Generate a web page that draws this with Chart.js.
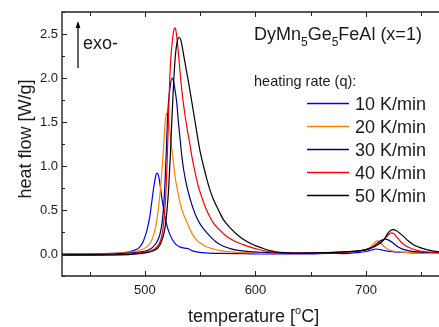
<!DOCTYPE html>
<html>
<head>
<meta charset="utf-8">
<script src="https://cdn.jsdelivr.net/npm/chart.js@4.4.0/dist/chart.umd.min.js"></script>
<style>
  html, body { margin: 0; padding: 0; background: #fff; overflow: hidden; }
  #chart { display: block; }
</style>
</head>
<body>
<canvas id="chart" width="439" height="327"></canvas>
<script>
// heating rates, legend order
const rates = ['10 K/min', '20 K/min', '30 K/min', '40 K/min', '50 K/min'];
const colors = ['#0000ff', '#ff8000', '#000080', '#ff0000', '#000000'];

// DSC traces, [temperature °C, heat flow W/g]
const q10 = [[425,0.0],[445,0.0],[465,0.005],[478,0.012],[486,0.025],[492,0.05],[496,0.09],[499,0.16],[502,0.28],[504.5,0.43],[506.5,0.62],[508.5,0.8],[510,0.9],[511.2,0.92],[512.5,0.88],[514,0.76],[516,0.58],[518,0.43],[520,0.32],[522,0.24],[524.5,0.17],[528,0.11],[532,0.078],[536,0.066],[539,0.062],[543,0.035],[548,0.022],[555,0.012],[570,0.006],[590,0.004],[610,0.0],[630,0.002],[650,0.0],[665,0.008],[680,0.005],[692,0.015],[700,0.028],[705,0.045],[709,0.057],[713,0.05],[718,0.035],[725,0.025],[735,0.018],[748,0.012],[758,0.015],[770,0.01]];
const q20 = [[425,-0.005],[450,-0.003],[470,0.005],[482,0.015],[490,0.028],[496,0.045],[501,0.075],[505,0.13],[508,0.22],[510.5,0.36],[512.5,0.55],[514.3,0.77],[515.7,1.0],[516.8,1.2],[518,1.45],[519,1.57],[519.8,1.6],[520.6,1.57],[522,1.46],[523.5,1.28],[525.7,1.05],[527.5,0.86],[529.5,0.72],[531.8,0.58],[534,0.48],[536.3,0.41],[539,0.33],[542.3,0.24],[546,0.17],[550,0.125],[556,0.08],[562,0.057],[570,0.036],[580,0.022],[595,0.014],[610,0.01],[630,0.008],[650,0.012],[670,0.02],[685,0.025],[695,0.035],[701,0.055],[705,0.09],[708.5,0.14],[710.5,0.15],[713,0.125],[716,0.088],[720,0.055],[725,0.032],[732,0.022],[745,0.018],[770,0.014]];
const q30 = [[425,-0.005],[450,-0.005],[470,0.0],[485,0.01],[495,0.022],[502,0.04],[507,0.075],[510.5,0.13],[513.5,0.22],[515.5,0.35],[517,0.55],[518.3,0.85],[519.3,1.15],[520.3,1.5],[521.3,1.72],[522.8,1.9],[524.5,2.0],[525.6,1.98],[527,1.88],[528.8,1.72],[530.2,1.51],[531.8,1.31],[533.3,1.12],[535,0.96],[537.9,0.77],[540.8,0.63],[543.8,0.51],[547,0.41],[550,0.34],[554,0.27],[559,0.2],[565,0.13],[571,0.088],[578,0.058],[586,0.038],[595,0.026],[605,0.02],[620,0.012],[640,0.01],[660,0.015],[680,0.022],[692,0.032],[700,0.05],[705,0.075],[709,0.11],[713,0.15],[717.3,0.17],[721,0.155],[724.5,0.125],[728,0.088],[733,0.055],[740,0.032],[750,0.02],[770,0.015]];
const q40 = [[425,-0.015],[450,-0.015],[470,-0.01],[485,0.0],[495,0.012],[503,0.03],[509,0.06],[513,0.12],[515.5,0.22],[517.3,0.39],[518.8,0.65],[520,1.0],[521.2,1.5],[522.2,1.9],[523.3,2.2],[524.8,2.42],[526.3,2.55],[527.3,2.57],[528.3,2.52],[529.8,2.35],[531.3,2.14],[532.8,1.93],[534.5,1.74],[536.5,1.56],[538.5,1.4],[540.5,1.26],[542.3,1.12],[545,0.95],[548.3,0.77],[551.3,0.65],[554.4,0.54],[558,0.44],[562,0.35],[567,0.28],[574,0.2],[581,0.148],[589,0.106],[596,0.075],[604,0.048],[613,0.025],[625,0.012],[645,0.01],[665,0.015],[685,0.025],[697,0.04],[704,0.065],[709,0.1],[713,0.13],[716,0.16],[719.5,0.21],[722.7,0.24],[725,0.232],[728,0.19],[731,0.145],[735,0.1],[740,0.068],[746,0.042],[752,0.026],[760,0.02],[770,0.016]];
const q50 = [[425,-0.01],[450,-0.01],[470,-0.01],[485,-0.006],[495,0.004],[503,0.018],[509,0.045],[513,0.09],[516,0.18],[518.2,0.3],[520,0.5],[521.5,0.75],[523,1.12],[524.3,1.5],[525.7,1.88],[527.5,2.25],[529.3,2.42],[530.9,2.46],[532.5,2.43],[534.5,2.3],[537,2.12],[539.5,1.95],[542,1.76],[545.4,1.5],[548,1.3],[550,1.16],[553,1.0],[556,0.85],[559,0.72],[562,0.62],[566.5,0.5],[571,0.39],[577,0.3],[583,0.225],[590,0.16],[598,0.106],[605,0.072],[613,0.038],[622,0.018],[640,0.01],[660,0.015],[680,0.025],[695,0.038],[702,0.055],[708,0.085],[712,0.115],[716,0.16],[720.3,0.245],[724.2,0.276],[727.5,0.265],[730.5,0.235],[733.9,0.2],[738,0.15],[743,0.106],[749,0.072],[755,0.05],[761,0.032],[770,0.022]];
const traces = [q10, q20, q30, q40, q50];

const xTicks = [500, 600, 700];
const yTicks = [0, 0.5, 1, 1.5, 2, 2.5];

const FONT = '"Liberation Sans", Arial, sans-serif';
const INK = '#1a1a1a';

// frame, inward ticks, labels and legend drawn by hand
const decor = {
    id: 'decor',
    afterDraw(chart) {
        const ctx = chart.ctx;
        const a = chart.chartArea;
        const x = chart.scales.x;
        const y = chart.scales.y;
        ctx.save();

        ctx.strokeStyle = '#222';
        ctx.lineWidth = 1.4;
        ctx.beginPath();
        ctx.moveTo(a.right + 2, a.top);
        ctx.lineTo(a.left, a.top);
        ctx.lineTo(a.left, a.bottom);
        ctx.lineTo(a.right + 2, a.bottom);
        ctx.stroke();

        ctx.lineWidth = 1;
        ctx.beginPath();
        for (let t = 450; t <= 766; t += 50) {
            const px = Math.round(x.getPixelForValue(t)) + 0.5;
            const len = t % 100 === 0 ? 5 : 4;
            ctx.moveTo(px, a.bottom); ctx.lineTo(px, a.bottom - len);
            ctx.moveTo(px, a.top); ctx.lineTo(px, a.top + len);
        }
        for (let v = -0.25; v <= 2.76; v += 0.25) {
            const py = Math.round(y.getPixelForValue(v)) + 0.5;
            const len = Math.abs(v * 2 - Math.round(v * 2)) < 1e-6 ? 5 : 3;
            ctx.moveTo(a.left, py); ctx.lineTo(a.left + len, py);
        }
        ctx.stroke();

        ctx.fillStyle = INK;
        ctx.textBaseline = 'alphabetic';

        // axis titles
        ctx.font = '18px ' + FONT;
        ctx.save();
        ctx.translate(31, 139);
        ctx.rotate(-Math.PI / 2);
        ctx.textAlign = 'center';
        ctx.fillText('heat flow [W/g]', 0, 0);
        ctx.restore();

        ctx.textAlign = 'left';
        let cx = 188;
        ctx.font = '18px ' + FONT;
        ctx.fillText('temperature [', cx, 322);
        cx += ctx.measureText('temperature [').width;
        ctx.font = '11px ' + FONT;
        ctx.fillText('o', cx, 314);
        cx += ctx.measureText('o').width;
        ctx.font = '18px ' + FONT;
        ctx.fillText('C]', cx, 322);

        // sample name with subscripts
        const parts = [['DyMn', 0], ['5', 1], ['Ge', 0], ['5', 1], ['FeAl (x=1)', 0]];
        cx = 254;
        parts.forEach(([s, sub]) => {
            ctx.font = (sub ? '12px ' : '18px ') + FONT;
            ctx.fillText(s, cx, sub ? 46 : 39.5);
            cx += ctx.measureText(s).width;
        });

        ctx.font = '14.5px ' + FONT;
        ctx.fillText('heating rate (q):', 254, 86);

        // legend
        ctx.font = '18px ' + FONT;
        rates.forEach((r, i) => {
            const ly = 103.5 + i * 23;
            ctx.strokeStyle = colors[i];
            ctx.lineWidth = 1.3;
            ctx.beginPath();
            ctx.moveTo(307, ly);
            ctx.lineTo(349, ly);
            ctx.stroke();
            ctx.fillText(r, 355, ly + 6.5);
        });

        // exo arrow
        ctx.strokeStyle = '#000';
        ctx.lineWidth = 1.2;
        ctx.beginPath();
        ctx.moveTo(78, 68);
        ctx.lineTo(78, 27);
        ctx.stroke();
        ctx.fillStyle = '#000';
        ctx.beginPath();
        ctx.moveTo(78, 21);
        ctx.lineTo(75.6, 28);
        ctx.lineTo(80.4, 28);
        ctx.closePath();
        ctx.fill();
        ctx.fillStyle = INK;
        ctx.fillText('exo-', 83, 48.5);

        ctx.restore();
    }
};

const datasets = traces.map((tr, i) => ({
    label: rates[i],
    data: tr.map(p => ({ x: p[0], y: p[1] })),
    borderColor: colors[i],
    borderWidth: 1.2,
    pointRadius: 0,
    fill: false,
    cubicInterpolationMode: 'monotone',
    order: 4 - i
}));

const tickFont = { family: FONT, size: 13 };

new Chart(document.getElementById('chart').getContext('2d'), {
    type: 'line',
    data: { datasets: datasets },
    options: {
        responsive: false,
        animation: false,
        layout: { padding: { top: 12, left: 0, right: 0, bottom: 0 } },
        plugins: { legend: { display: false }, tooltip: { enabled: false } },
        scales: {
            x: {
                type: 'linear',
                min: 425,
                max: 766,
                afterFit: s => { s.height = 51; },
                afterBuildTicks: s => { s.ticks = xTicks.map(v => ({ value: v })); },
                grid: { display: false, drawTicks: false },
                border: { display: false },
                ticks: { padding: 7, font: tickFont, color: INK, autoSkip: false, maxRotation: 0 }
            },
            y: {
                type: 'linear',
                min: -0.25,
                max: 2.75,
                afterFit: s => { s.width = 62; },
                afterBuildTicks: s => { s.ticks = yTicks.map(v => ({ value: v })); },
                grid: { display: false, drawTicks: false },
                border: { display: false },
                ticks: { padding: 4, font: tickFont, color: INK, autoSkip: false, callback: v => v.toFixed(1) }
            }
        }
    },
    plugins: [decor]
});
</script>
</body>
</html>
